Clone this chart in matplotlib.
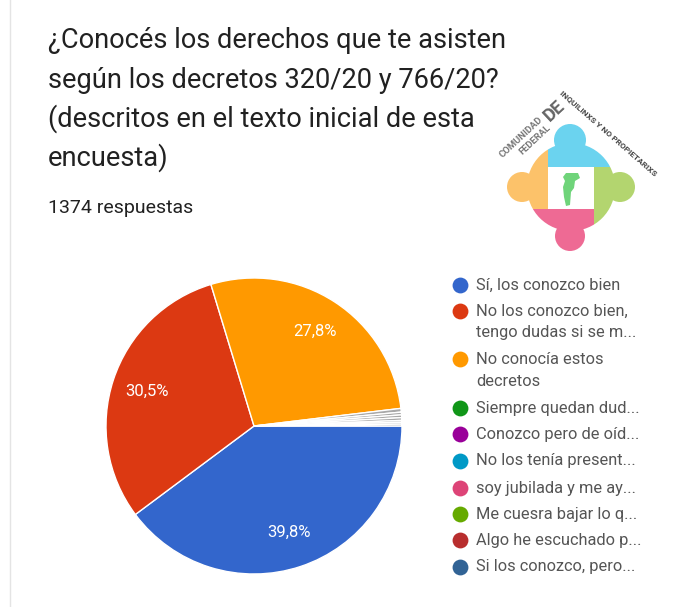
import matplotlib
matplotlib.use('Agg')
import matplotlib.pyplot as plt
from matplotlib.patches import Circle, Rectangle, Polygon

plt.rcParams['font.family'] = ['Roboto', 'DejaVu Sans']

title_lines = ['¿Conocés los derechos que te asisten',
               'según los decretos 320/20 y 766/20?',
               '(descritos en el texto inicial de esta',
               'encuesta)']
responses = '1374 respuestas'
labels = ['Sí, los conozco bien',
          'No los conozco bien,\ntengo dudas si se m...',
          'No conocía estos\ndecretos',
          'Siempre quedan dud...',
          'Conozco pero de oíd...',
          'No los tenía present...',
          'soy jubilada y me ay...',
          'Me cuesra bajar lo q...',
          'Algo he escuchado p...',
          'Si los conozco, pero...']
values = [39.8, 30.5, 27.8, 0.4, 0.3, 0.3, 0.3, 0.2, 0.2, 0.2]
colors = ['#3366cc', '#dc3912', '#ff9900', '#109618', '#990099',
          '#0099c6', '#dd4477', '#66aa00', '#b82e2e', '#316395']
legend_y = [285, 311, 359, 408, 434, 461, 488, 514, 540, 567]

W, H = 680, 607
fig = plt.figure(figsize=(W / 100, H / 100), dpi=100, facecolor='white')

# overlay in pixel coordinates for the text, legend and logo
bg = fig.add_axes([0, 0, 1, 1])
bg.set_xlim(0, W)
bg.set_ylim(H, 0)
bg.axis('off')

bg.plot([10, 10], [0, H], color='#e4e4e4', lw=1)

for line, y in zip(title_lines, [40, 81, 119, 158]):
    bg.text(48, y, line, fontsize=19.6, color='#212121', va='center', ha='left')
bg.text(48, 208, responses, fontsize=14, color='#212121', va='center', ha='left')

# pie
ax = fig.add_axes([106 / W, 1 - 574 / H, 296 / W, 296 / H])


def pct_label(p):
    return f'{p:.1f}%'.replace('.', ',') if p > 5 else ''


wedges, _, autotexts = ax.pie(values, colors=colors, startangle=0, counterclock=False,
                              radius=1, autopct=pct_label, pctdistance=0.76,
                              wedgeprops={'edgecolor': 'white', 'linewidth': 1})
for t in autotexts:
    t.set_color('white')
    t.set_fontsize(12)
# the thin slices come out washed-out grey in the picture
for w in wedges[3:]:
    w.set_facecolor('#a8a8a8')
ax.set_xlim(-1, 1)
ax.set_ylim(-1, 1)

# legend
for lab, col, y in zip(labels, colors, legend_y):
    bg.scatter([460], [y], s=130, color=col, linewidths=0)
    bg.text(476, y, lab.split('\n')[0], fontsize=11.8, color='#555555', va='center')
    if '\n' in lab:
        bg.text(476, y + 22, lab.split('\n')[1], fontsize=11.8, color='#555555', va='center')

# logo
blue, orange, green, pink = '#6bd3ef', '#fcc26a', '#b3d56f', '#ee6a94'
ring = Circle((571, 187), 44, transform=bg.transData)
for (x, y, r, c) in [(570, 140, 16, blue), (522, 187, 15, orange),
                     (620, 187, 15, green), (570, 236, 15, pink)]:
    bg.add_patch(Circle((x, y), r, color=c, lw=0))
for pts, c in [([(548, 140), (620, 140), (620, 167), (548, 167)], blue),
               ([(520, 140), (548, 140), (548, 209), (520, 209)], orange),
               ([(594, 167), (620, 167), (620, 240), (594, 240)], green),
               ([(530, 209), (594, 209), (594, 240), (530, 240)], pink)]:
    p = Polygon(pts, color=c, lw=0)
    bg.add_patch(p)
    p.set_clip_path(ring)
bg.add_patch(Rectangle((548, 167), 46, 42, color='white', lw=0))
argentina_x = [566, 578, 580, 575, 574, 571, 570, 566, 564, 563, 565, 563]
argentina_y = [173, 173, 178, 181, 188, 192, 205, 206, 197, 187, 181, 177]
bg.add_patch(Polygon(list(zip(argentina_x, argentina_y)), color='#6fd47a', lw=0))

bg.text(521, 137, 'COMUNIDAD', fontsize=6.8, color='#777777', rotation=43,
        ha='center', va='center', rotation_mode='anchor', fontweight='bold')
bg.text(535, 140, 'FEDERAL', fontsize=6.8, color='#777777', rotation=43,
        ha='center', va='center', rotation_mode='anchor', fontweight='bold')
bg.text(554, 111, 'DE', fontsize=13, color='#666666', rotation=43,
        ha='center', va='center', rotation_mode='anchor', fontweight='bold')
bg.text(609, 133, 'INQUILINXS Y NO PROPIETARIXS', fontsize=6, color='#444444', rotation=-41,
        ha='center', va='center', rotation_mode='anchor', fontweight='bold')

fig.savefig('out.png', dpi=100)
